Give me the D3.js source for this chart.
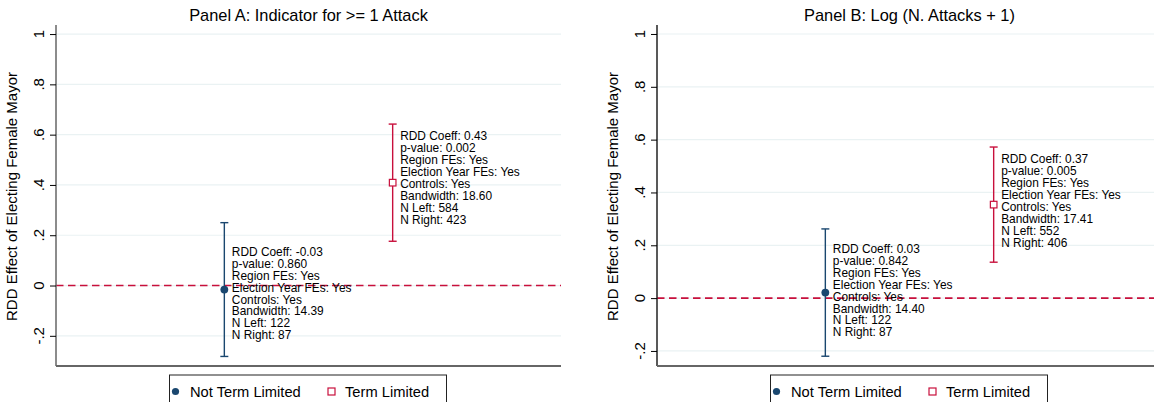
<!DOCTYPE html>
<html lang="en">
<head>
  <meta charset="UTF-8">
  <title>RDD Effect of Electing Female Mayor</title>
  <script src="https://d3js.org/d3.v7.min.js"></script>
  <style>
    body { margin: 0; background: #fff; }
    svg text { font-family: "Liberation Sans", Arial, sans-serif; fill: #000; }
    .tick-label { font-size: 15px; }
    .panel-title { font-size: 16.4px; }
    .axis-title { font-size: 15px; }
    .legend-text { font-size: 14.7px; }
    .note { font-size: 11.9px; }
  </style>
</head>
<body>
  <div id="body"></div>
  <script>
    // data
    const panelTitles = ["Panel A: Indicator for >= 1 Attack", "Panel B: Log (N. Attacks + 1)"];
    const groups = ["Not Term Limited", "Term Limited"];
    const groupPos = [1, 2];
    const pointEst = [[-0.016, 0.409], [0.021, 0.354]];
    const ciLow = [[-0.282, 0.176], [-0.220, 0.136]];
    const ciHigh = [[0.250, 0.642], [0.262, 0.572]];
    const coeff = [["-0.03", "0.43"], ["0.03", "0.37"]];
    const pValue = [["0.860", "0.002"], ["0.842", "0.005"]];
    const bandwidth = [["14.39", "18.60"], ["14.40", "17.41"]];
    const nLeft = [["122", "584"], ["122", "552"]];
    const nRight = [["87", "423"], ["87", "406"]];
    const yTicks = [-0.2, 0, 0.2, 0.4, 0.6, 0.8, 1];

    //dimensions
    const width = 1154, height = 402;
    const panels = [
      { left: 56, right: 561, yDomain: [-0.32, 1.036] },
      { left: 657, right: 1162, yDomain: [-0.257, 1.034] }
    ];
    const plotTop = 25, plotBottom = 366;
    const navy = "#1a476f", red = "#c8103c";
    const lineH = 11.9;

    const svg = d3.select("#body").append("svg")
      .attr("width", width).attr("height", height);

    const fmt = d => d === 0 ? "0" : d === 1 ? "1" : String(d).replace("0.", ".");

    panels.forEach((p, k) => {
      const x = d3.scaleLinear().domain([0, 3]).range([p.left, p.right]);
      const y = d3.scaleLinear().domain(p.yDomain).range([plotBottom, plotTop]);
      const g = svg.append("g");

      // grid
      g.selectAll(".grid").data(yTicks).enter().append("line")
        .attr("x1", p.left).attr("x2", p.right)
        .attr("y1", d => y(d)).attr("y2", d => y(d))
        .attr("stroke", "#eaf2f3").attr("stroke-width", 1.2);

      // zero line
      g.append("line")
        .attr("x1", p.left).attr("x2", p.right)
        .attr("y1", y(0)).attr("y2", y(0))
        .attr("stroke", red).attr("stroke-width", 1.6)
        .attr("stroke-dasharray", "7.5,4.5");

      // y axis
      const ax = g.append("g")
        .attr("transform", `translate(${p.left},0)`)
        .call(d3.axisLeft(y).tickValues(yTicks).tickSize(6).tickFormat(""));
      ax.select(".domain").attr("stroke", k === 0 ? "#666" : "#222").attr("stroke-width", 1.5)
        .attr("d", `M0,${plotTop}V${plotBottom}`);
      ax.selectAll(".tick line").attr("stroke", "#000");

      g.selectAll(".tick-label").data(yTicks).enter().append("text")
        .attr("class", "tick-label")
        .attr("transform", d => `translate(${p.left - 12},${y(d)}) rotate(-90)`)
        .attr("text-anchor", "middle")
        .text(fmt);

      // x axis line
      g.append("line")
        .attr("x1", p.left).attr("x2", p.right)
        .attr("y1", plotBottom).attr("y2", plotBottom)
        .attr("stroke", "#666").attr("stroke-width", 1.8);

      // titles
      g.append("text").attr("class", "panel-title")
        .attr("x", (p.left + p.right) / 2).attr("y", 20.5)
        .attr("text-anchor", "middle")
        .text(panelTitles[k]);
      g.append("text").attr("class", "axis-title")
        .attr("transform", `translate(${p.left - 39},${(plotTop + plotBottom) / 2 + 1}) rotate(-90)`)
        .attr("text-anchor", "middle")
        .text("RDD Effect of Electing Female Mayor");

      // CIs and points
      groups.forEach((grp, i) => {
        const c = i === 0 ? navy : red;
        const cx = x(groupPos[i]);
        g.append("line")
          .attr("x1", cx).attr("x2", cx)
          .attr("y1", y(ciLow[k][i])).attr("y2", y(ciHigh[k][i]))
          .attr("stroke", c).attr("stroke-width", 1.4);
        [ciLow[k][i], ciHigh[k][i]].forEach(v => {
          g.append("line")
            .attr("x1", cx - 4).attr("x2", cx + 4)
            .attr("y1", y(v)).attr("y2", y(v))
            .attr("stroke", c).attr("stroke-width", 1.4);
        });
        if (i === 0) {
          g.append("circle").attr("cx", cx).attr("cy", y(pointEst[k][i]))
            .attr("r", 3.9).attr("fill", navy);
        } else {
          g.append("rect")
            .attr("x", cx - 3.3).attr("y", y(pointEst[k][i]) - 3.3)
            .attr("width", 6.6).attr("height", 6.6)
            .attr("fill", "#fff").attr("stroke", red).attr("stroke-width", 1.2);
        }

        // annotation
        const lines = [
          "RDD Coeff: " + coeff[k][i],
          "p-value: " + pValue[k][i],
          "Region FEs: Yes",
          "Election Year FEs: Yes",
          "Controls: Yes",
          "Bandwidth: " + bandwidth[k][i],
          "N Left: " + nLeft[k][i],
          "N Right: " + nRight[k][i]
        ];
        const cy = y(+coeff[k][i]);
        g.append("text").attr("class", "note")
          .selectAll("tspan").data(lines).enter().append("tspan")
          .attr("x", cx + 7.5)
          .attr("y", (d, j) => cy + (j - 3.5) * lineH + 4.5)
          .text(d => d);
      });

      // legend
      const cxm = (p.left + p.right) / 2;
      const lg = g.append("g").attr("transform", `translate(${cxm - 139},375)`);
      lg.append("rect").attr("x", 0).attr("y", 0).attr("width", 277).attr("height", 40)
        .attr("fill", "#fff").attr("stroke", "#222").attr("stroke-width", 1);
      lg.append("circle").attr("cx", 6).attr("cy", 16.5).attr("r", 3.6).attr("fill", navy);
      lg.append("text").attr("class", "legend-text").attr("x", 20.5).attr("y", 22).text(groups[0]);
      lg.append("rect").attr("x", 158.5).attr("y", 13).attr("width", 7).attr("height", 7)
        .attr("fill", "#fff").attr("stroke", red).attr("stroke-width", 1.2);
      lg.append("text").attr("class", "legend-text").attr("x", 175.5).attr("y", 22).text(groups[1]);
    });
  </script>
</body>
</html>
